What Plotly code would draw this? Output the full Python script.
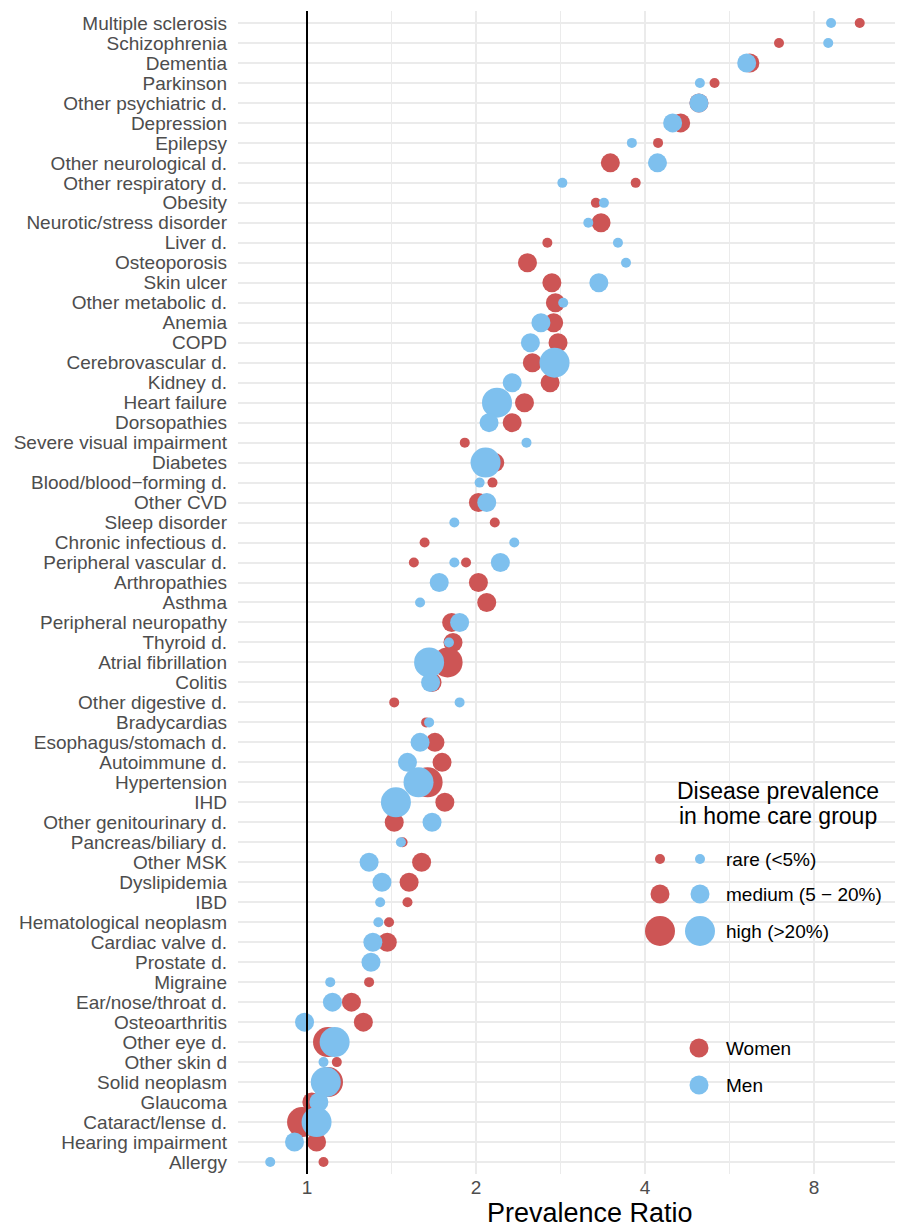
import plotly.graph_objects as go

# ---------------- data ----------------
diseases = [
    "Multiple sclerosis", "Schizophrenia", "Dementia", "Parkinson", "Other psychiatric d.",
    "Depression", "Epilepsy", "Other neurological d.", "Other respiratory d.", "Obesity",
    "Neurotic/stress disorder", "Liver d.", "Osteoporosis", "Skin ulcer", "Other metabolic d.",
    "Anemia", "COPD", "Cerebrovascular d.", "Kidney d.", "Heart failure",
    "Dorsopathies", "Severe visual impairment", "Diabetes", "Blood/blood\u2212forming d.", "Other CVD",
    "Sleep disorder", "Chronic infectious d.", "Peripheral vascular d.", "Peripheral vascular d.",
    "Arthropathies", "Asthma", "Peripheral neuropathy", "Thyroid d.", "Atrial fibrillation",
    "Colitis", "Other digestive d.", "Bradycardias", "Esophagus/stomach d.", "Autoimmune d.",
    "Hypertension", "IHD", "Other genitourinary d.", "Pancreas/biliary d.", "Other MSK",
    "Dyslipidemia", "IBD", "Hematological neoplasm", "Cardiac valve d.", "Prostate d.",
    "Migraine", "Ear/nose/throat d.", "Osteoarthritis", "Other eye d.", "Other skin d",
    "Solid neoplasm", "Glaucoma", "Cataract/lense d.", "Hearing impairment", "Allergy",
]

women_ratio = [
    9.65, 6.93, 6.15, 5.32, 4.99,
    4.63, 4.22, 3.47, 3.85, 3.27,
    3.34, 2.68, 2.47, 2.73, 2.77,
    2.75, 2.80, 2.52, 2.71, 2.44,
    2.32, 1.91, 2.16, 2.14, 2.02,
    2.16, 1.62, 1.55, 1.92,
    2.02, 2.09, 1.81, 1.82, 1.78,
    1.67, 1.43, 1.63, 1.69, 1.74,
    1.64, 1.76, 1.43, 1.48, 1.60,
    1.52, 1.51, 1.40, 1.39, None,
    1.29, 1.20, 1.26, 1.09, 1.13,
    1.09, 1.02, 0.98, 1.04, 1.07,
]

men_ratio = [
    8.58, 8.48, 6.07, 5.01, 4.99,
    4.48, 3.79, 4.21, 2.85, 3.38,
    3.17, 3.58, 3.70, 3.31, 2.86,
    2.61, 2.50, 2.76, 2.32, 2.18,
    2.11, 2.46, 2.08, 2.03, 2.09,
    1.83, 2.34, 1.83, 2.21,
    1.72, 1.59, 1.87, 1.79, 1.65,
    1.66, 1.87, 1.65, 1.59, 1.51,
    1.58, 1.44, 1.67, 1.47, 1.29,
    1.36, 1.35, 1.34, 1.31, 1.30,
    1.10, 1.11, 0.99, 1.12, 1.07,
    1.08, 1.05, 1.04, 0.95, 0.86,
]

women_prev = [
    "rare", "rare", "medium", "rare", "medium",
    "medium", "rare", "medium", "rare", "rare",
    "medium", "rare", "medium", "medium", "medium",
    "medium", "medium", "medium", "medium", "medium",
    "medium", "rare", "medium", "rare", "medium",
    "rare", "rare", "rare", "rare",
    "medium", "medium", "medium", "medium", "high",
    "medium", "rare", "rare", "medium", "medium",
    "high", "medium", "medium", "rare", "medium",
    "medium", "rare", "rare", "medium", None,
    "rare", "medium", "medium", "high", "rare",
    "high", "medium", "high", "medium", "rare",
]

men_prev = [
    "rare", "rare", "medium", "rare", "medium",
    "medium", "rare", "medium", "rare", "rare",
    "rare", "rare", "rare", "medium", "rare",
    "medium", "medium", "high", "medium", "high",
    "medium", "rare", "high", "rare", "medium",
    "rare", "rare", "rare", "medium",
    "medium", "rare", "medium", "rare", "high",
    "medium", "rare", "rare", "medium", "medium",
    "high", "high", "medium", "rare", "medium",
    "medium", "rare", "rare", "medium", "medium",
    "rare", "medium", "medium", "high", "rare",
    "high", "medium", "high", "medium", "rare",
]

prev_levels = ["rare", "medium", "high"]
prev_labels = ["rare (<5%)", "medium (5 \u2212 20%)", "high (>20%)"]
x_ticks = [1, 2, 4, 8]
x_minor = [2 ** 0.5, 2 ** 1.5, 2 ** 2.5, 2 ** 3.5]

# ---------------- styling ----------------
RED = "#CD5555"
BLUE = "#7EC0EE"
SIZE = {"rare": 10, "medium": 19, "high": 30}
FONT = "Liberation Sans, Arial, Helvetica, sans-serif"
OFF = 8  # page body margin offset in the browser

row_order = list(dict.fromkeys(diseases))
n_rows = len(row_order)

fig = go.Figure()

def add_series(ratios, prevs, color, name):
    xs, ys, ss = [], [], []
    for d, r, p in zip(diseases, ratios, prevs):
        if r is None:
            continue
        xs.append(r)
        ys.append(d)
        ss.append(SIZE[p])
    fig.add_trace(go.Scatter(
        x=xs, y=ys, mode="markers", name=name,
        marker=dict(color=color, size=ss, line=dict(width=0), opacity=1),
        showlegend=False,
    ))

add_series(women_ratio, women_prev, RED, "Women")
add_series(men_ratio, men_prev, BLUE, "Men")

fig.add_shape(type="line", xref="x", yref="paper", x0=1, x1=1, y0=0, y1=1,
              line=dict(color="black", width=2), layer="above")

# ---------------- custom legend (paper coords) ----------------
# plot area in screen pixels: x 238..903, y 11..1174
PX0, PX1, PY0, PY1 = 238, 903, 11, 1174
def px(xp):
    return (xp - PX0) / (PX1 - PX0)
def py(yp):
    return (PY1 - yp) / (PY1 - PY0)

def circle(xp, yp, d, color):
    r = d / 2
    fig.add_shape(type="circle", xref="paper", yref="paper",
                  xsizemode="pixel", ysizemode="pixel",
                  xanchor=px(xp), yanchor=py(yp),
                  x0=-r, x1=r, y0=-r, y1=r,
                  fillcolor=color, line=dict(width=0), layer="above")

def label(xp, yp, text, size, anchor="left"):
    fig.add_annotation(xref="paper", yref="paper", x=px(xp), y=py(yp),
                       text=text, showarrow=False, xanchor=anchor, yanchor="middle",
                       font=dict(family=FONT, size=size, color="black"))

label(778, 791, "Disease prevalence", 23, anchor="center")
label(778, 816, "in home care group", 23, anchor="center")
for lvl, txt, yp in zip(prev_levels, prev_labels, [859, 894, 931]):
    circle(660, yp, SIZE[lvl], RED)
    circle(700, yp, SIZE[lvl], BLUE)
    label(724, yp, txt, 19)
for nm, col, yp in zip(["Women", "Men"], [RED, BLUE], [1048, 1085]):
    circle(699, yp, SIZE["medium"], col)
    label(724, yp, nm, 19)

# x-axis title (centred as in the reference)
label(590, 1213, "Prevalence Ratio", 27, anchor="center")

# ---------------- layout ----------------
W, H = 903, 1227
fig.update_layout(
    width=W, height=H,
    margin=dict(l=PX0 - OFF, r=W - (PX1 - OFF), t=PY0 - OFF, b=H - (PY1 - OFF), autoexpand=False),
    paper_bgcolor="white", plot_bgcolor="white",
    font=dict(family=FONT, color="#4D4D4D", size=19),
    xaxis=dict(
        type="log",
        range=[-0.1229, 1.0616],
        tickvals=x_ticks, ticktext=[str(v) for v in x_ticks],
        showgrid=True, gridcolor="#EBEBEB", gridwidth=1.5,
        minor=dict(tickvals=x_minor, showgrid=True, gridcolor="#EBEBEB", gridwidth=1.2),
        zeroline=False, showline=False, ticks="",
        tickfont=dict(size=19, color="#4D4D4D"),
    ),
    yaxis=dict(
        type="category",
        categoryorder="array", categoryarray=row_order,
        tickmode="array", tickvals=row_order, ticktext=row_order,
        range=[n_rows - 1 + 0.6, -0.6],
        showgrid=True, gridcolor="#EBEBEB", gridwidth=1.5,
        zeroline=False, showline=False, ticks="",
        ticklabelstandoff=10,
        tickfont=dict(size=19, color="#4D4D4D"),
    ),
    showlegend=False,
)

fig.write_html("out.html")
